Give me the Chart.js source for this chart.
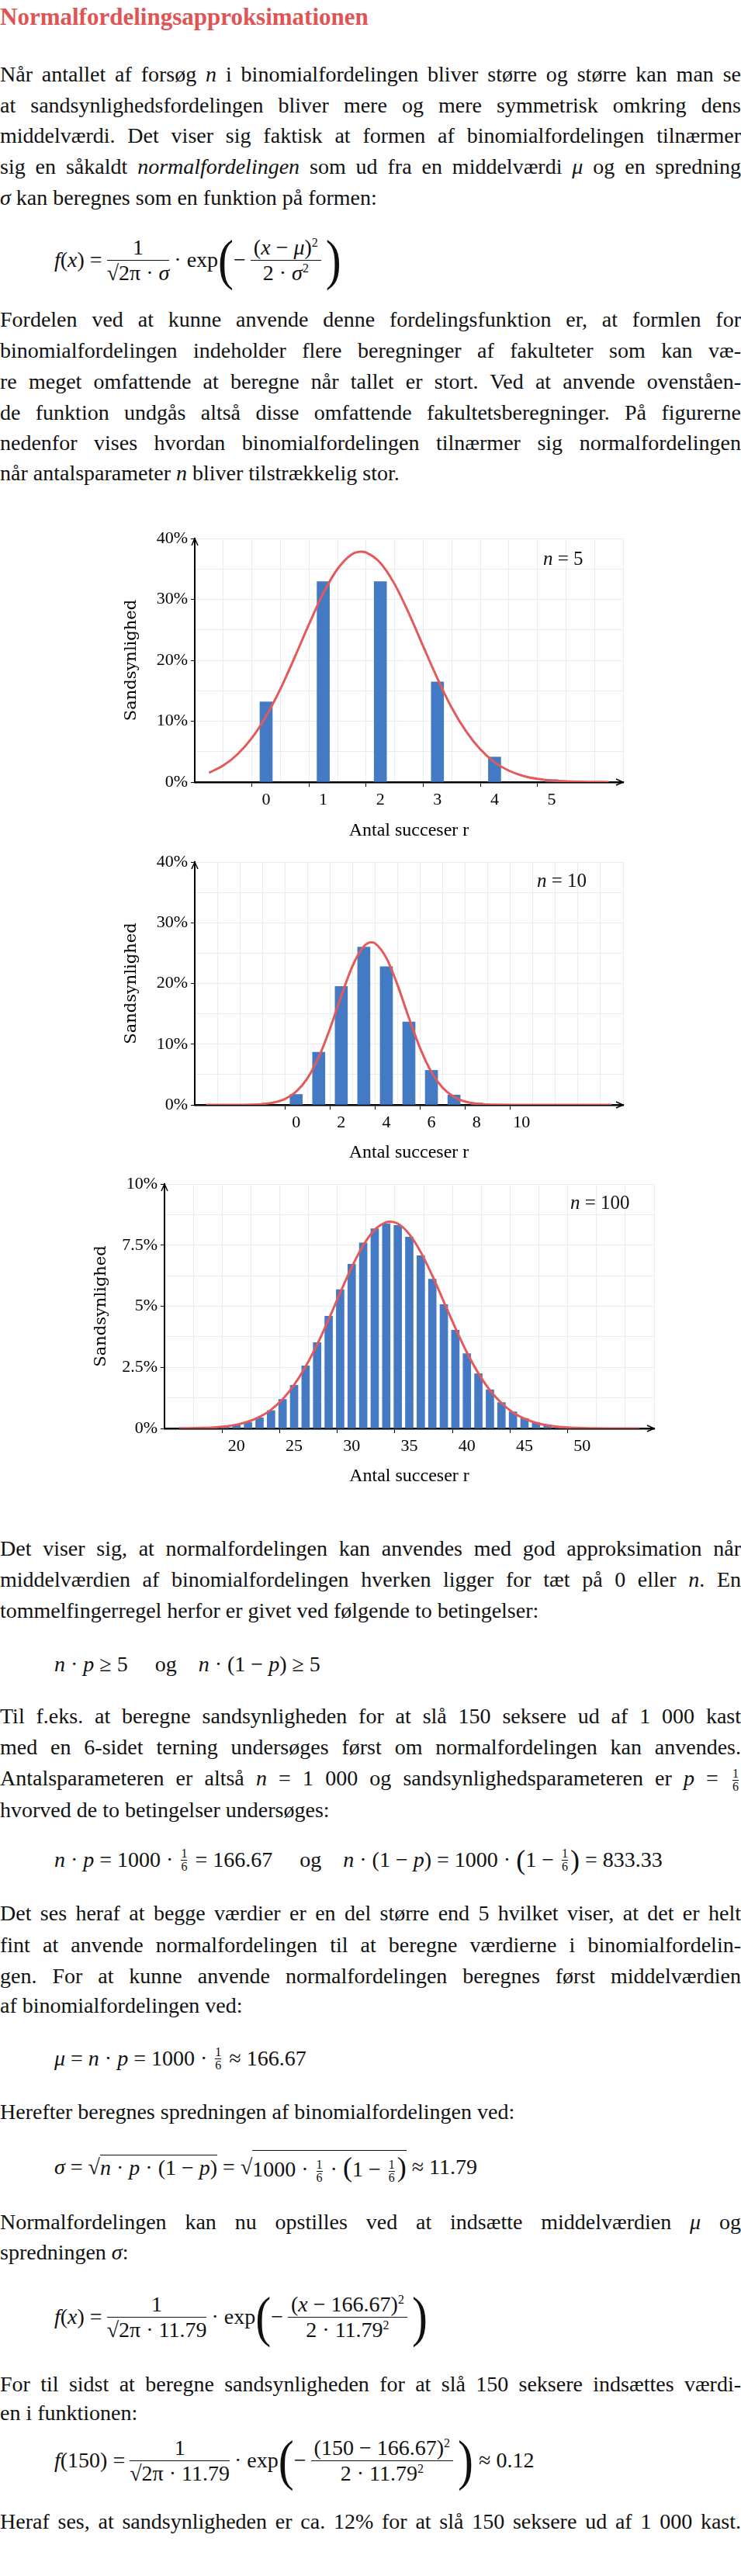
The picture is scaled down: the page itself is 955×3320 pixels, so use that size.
<!DOCTYPE html>
<html>
<head>
<meta charset="utf-8">
<script src="https://cdn.jsdelivr.net/npm/chart.js@4.4.0/dist/chart.umd.min.js"></script>
<style>
  body { margin:0; background:#fff; }
  #page { position:relative; width:955px; height:3320px; font-family:"Liberation Serif", serif; font-size:28px; color:#111; }
  .ln { position:absolute; left:0; height:40px; line-height:40px; white-space:nowrap; transform-origin:0 50%; }
  .m { font-style:italic; }
  .eq { position:absolute; left:70px; white-space:nowrap; font-size:28px; display:flex; align-items:center; }
  .frac { display:inline-flex; flex-direction:column; text-align:center; vertical-align:middle; margin:0 6px; }
  .frac > span:first-child { border-bottom:1.5px solid #111; padding:0 4px; }
  .sfrac { display:inline-flex; flex-direction:column; text-align:center; font-size:16px; line-height:16px; vertical-align:middle; margin:0 3px; }
  .sfrac > span:first-child { border-bottom:1px solid #111; }
  .big { font-size:60px; line-height:60px; display:inline-block; transform:scaleY(1.2); font-weight:200; }
  .mid { font-size:36px; display:inline-block; }
  .wrap { position:absolute; }
  .lab { position:absolute; font-size:25px; white-space:nowrap; }
  sup { font-size:16px; }
</style>
</head>
<body>
<div id="page">
  <div class="ln" style="top:2px;color:#e05454;font-size:31px;font-weight:bold;">Normalfordelingsapproksimationen</div>

  <div class="ln j" style="top:76px">Når antallet af forsøg <span class="m">n</span> i binomialfordelingen bliver større og større kan man se</div>
  <div class="ln j" style="top:116px">at sandsynlighedsfordelingen bliver mere og mere symmetrisk omkring dens</div>
  <div class="ln j" style="top:155px">middelværdi. Det viser sig faktisk at formen af binomialfordelingen tilnærmer</div>
  <div class="ln j" style="top:195px">sig en såkaldt <span class="m">normalfordelingen</span> som ud fra en middelværdi <span class="m">μ</span> og en spredning</div>
  <div class="ln" style="top:235px"><span class="m">σ</span> kan beregnes som en funktion på formen:</div>

  <div class="eq" style="top:300px;height:70px"><span class="m">f</span>(<span class="m">x</span>) =<span class="frac"><span>1</span><span>√2π · <i>σ</i></span></span>· exp<span class="big">(</span>−<span class="frac"><span>(<i>x</i> − <i>μ</i>)<sup>2</sup></span><span>2 · <i>σ</i><sup>2</sup></span></span><span class="big">)</span></div>

  <div class="ln j" style="top:392px">Fordelen ved at kunne anvende denne fordelingsfunktion er, at formlen for</div>
  <div class="ln j" style="top:432px">binomialfordelingen indeholder flere beregninger af fakulteter som kan væ-</div>
  <div class="ln j" style="top:472px">re meget omfattende at beregne når tallet er stort. Ved at anvende ovenståen-</div>
  <div class="ln j" style="top:512px">de funktion undgås altså disse omfattende fakultetsberegninger. På figurerne</div>
  <div class="ln j" style="top:551px">nedenfor vises hvordan binomialfordelingen tilnærmer sig normalfordelingen</div>
  <div class="ln" style="top:590px">når antalsparameter <span class="m">n</span> bliver tilstrækkelig stor.</div>

  <div class="wrap" style="left:140px;top:664px;width:680px;height:431px"><canvas id="c1"></canvas></div>
  <div class="lab" style="left:700px;top:706px"><i>n</i> = 5</div>
  <div class="wrap" style="left:140px;top:1081px;width:680px;height:429px"><canvas id="c2"></canvas></div>
  <div class="lab" style="left:692px;top:1121px"><i>n</i> = 10</div>
  <div class="wrap" style="left:100px;top:1496px;width:760px;height:431px"><canvas id="c3"></canvas></div>
  <div class="lab" style="left:735px;top:1536px"><i>n</i> = 100</div>

  <div class="ln j" style="top:1976px">Det viser sig, at normalfordelingen kan anvendes med god approksimation når</div>
  <div class="ln j" style="top:2016px">middelværdien af binomialfordelingen hverken ligger for tæt på 0 eller <span class="m">n</span>. En</div>
  <div class="ln" style="top:2056px">tommelfingerregel herfor er givet ved følgende to betingelser:</div>

  <div class="eq" style="top:2125px;height:40px"><i>n</i>&nbsp;·&nbsp;<i>p</i>&nbsp;≥&nbsp;5 &nbsp;&nbsp;&nbsp;&nbsp;og&nbsp;&nbsp;&nbsp;&nbsp; <i>n</i>&nbsp;·&nbsp;(1&nbsp;−&nbsp;<i>p</i>)&nbsp;≥&nbsp;5</div>

  <div class="ln j" style="top:2192px">Til f.eks. at beregne sandsynligheden for at slå 150 seksere ud af 1 000 kast</div>
  <div class="ln j" style="top:2232px">med en 6-sidet terning undersøges først om normalfordelingen kan anvendes.</div>
  <div class="ln j" style="top:2272px">Antalsparameteren er altså <i>n</i> = 1 000 og sandsynlighedsparameteren er <i>p</i> = <span class="sfrac"><span>1</span><span>6</span></span></div>
  <div class="ln" style="top:2313px">hvorved de to betingelser undersøges:</div>

  <div class="eq" style="top:2377px;height:40px"><i>n</i>&nbsp;·&nbsp;<i>p</i>&nbsp;=&nbsp;1000&nbsp;·&nbsp;<span class="sfrac"><span>1</span><span>6</span></span>&nbsp;=&nbsp;166.67 &nbsp;&nbsp;&nbsp;&nbsp;og&nbsp;&nbsp;&nbsp;&nbsp; <i>n</i>&nbsp;·&nbsp;(1&nbsp;−&nbsp;<i>p</i>)&nbsp;=&nbsp;1000&nbsp;·&nbsp;<span class="mid">(</span>1&nbsp;−&nbsp;<span class="sfrac"><span>1</span><span>6</span></span><span class="mid">)</span>&nbsp;=&nbsp;833.33</div>

  <div class="ln j" style="top:2446px">Det ses heraf at begge værdier er en del større end 5 hvilket viser, at det er helt</div>
  <div class="ln j" style="top:2487px">fint at anvende normalfordelingen til at beregne værdierne i binomialfordelin-</div>
  <div class="ln j" style="top:2527px">gen. For at kunne anvende normalfordelingen beregnes først middelværdien</div>
  <div class="ln" style="top:2565px">af binomialfordelingen ved:</div>

  <div class="eq" style="top:2633px;height:40px"><i>μ</i>&nbsp;=&nbsp;<i>n</i>&nbsp;·&nbsp;<i>p</i>&nbsp;=&nbsp;1000&nbsp;·&nbsp;<span class="sfrac"><span>1</span><span>6</span></span>&nbsp;≈&nbsp;166.67</div>

  <div class="ln" style="top:2702px">Herefter beregnes spredningen af binomialfordelingen ved:</div>

  <div class="eq" style="top:2773px;height:40px"><i>σ</i>&nbsp;=&nbsp;√<span style="border-top:1.5px solid #111"><i>n</i>&nbsp;·&nbsp;<i>p</i>&nbsp;·&nbsp;(1&nbsp;−&nbsp;<i>p</i>)</span>&nbsp;=&nbsp;√<span style="border-top:1.5px solid #111">1000&nbsp;·&nbsp;<span class="sfrac"><span>1</span><span>6</span></span>&nbsp;·&nbsp;<span class="mid">(</span>1&nbsp;−&nbsp;<span class="sfrac"><span>1</span><span>6</span></span><span class="mid">)</span></span>&nbsp;≈&nbsp;11.79</div>

  <div class="ln j" style="top:2844px">Normalfordelingen kan nu opstilles ved at indsætte middelværdien <i>μ</i> og</div>
  <div class="ln" style="top:2883px">spredningen <i>σ</i>:</div>

  <div class="eq" style="top:2951px;height:70px"><i>f</i>(<i>x</i>) =<span class="frac"><span>1</span><span>√2π · 11.79</span></span>· exp<span class="big">(</span>−<span class="frac"><span>(<i>x</i> − 166.67)<sup>2</sup></span><span>2 · 11.79<sup>2</sup></span></span><span class="big">)</span></div>

  <div class="ln j" style="top:3053px">For til sidst at beregne sandsynligheden for at slå 150 seksere indsættes værdi-</div>
  <div class="ln" style="top:3090px">en i funktionen:</div>

  <div class="eq" style="top:3136px;height:70px"><i>f</i>(150) =<span class="frac"><span>1</span><span>√2π · 11.79</span></span>· exp<span class="big">(</span>−<span class="frac"><span>(150 − 166.67)<sup>2</sup></span><span>2 · 11.79<sup>2</sup></span></span><span class="big">)</span>&nbsp;≈&nbsp;0.12</div>

  <div class="ln j" style="top:3230px">Heraf ses, at sandsynligheden er ca. 12% for at slå 150 seksere ud af 1 000 kast.</div>
</div>

<script>
// n = 5
const r5 = [0, 1, 2, 3, 4, 5];
const p5 = [13.17, 32.92, 32.92, 16.46, 4.12, 0.41];
const nx5 = [-1, -0.75, -0.5, -0.25, 0, 0.25, 0.5, 0.75, 1, 1.25, 1.5, 1.667, 1.75, 2, 2.25, 2.5, 2.75, 3, 3.25, 3.5, 3.75, 4, 4.25, 4.5, 4.75, 5, 5.5, 6];
const ny5 = [1.54, 2.73, 4.59, 7.24, 10.84, 15.3, 20.5, 25.9, 31.0, 35.0, 37.4, 37.85, 37.7, 36.0, 32.5, 27.7, 22.3, 17.0, 12.2, 8.35, 5.37, 3.27, 1.88, 1.02, 0.53, 0.25, 0.05, 0.01];

// n = 10
const r10 = [0, 1, 2, 3, 4, 5, 6, 7, 8, 9, 10];
const p10 = [1.73, 8.67, 19.51, 26.01, 22.76, 13.66, 5.69, 1.63, 0.30, 0.03, 0.0];
const nx10 = [-4, -3, -2, -1.5, -1, -0.5, 0, 0.5, 1, 1.5, 2, 2.5, 3, 3.333, 3.5, 4, 4.5, 5, 5.5, 6, 6.5, 7, 7.5, 8, 9, 10, 12, 14];
const ny10 = [0, 0.003, 0.044, 0.14, 0.39, 0.98, 2.20, 4.40, 7.86, 12.56, 17.94, 22.9, 26.1, 26.76, 26.6, 24.2, 19.7, 14.33, 9.31, 5.40, 2.80, 1.30, 0.54, 0.20, 0.02, 0.002, 0, 0];

// n = 100
const r100 = [18, 19, 20, 21, 22, 23, 24, 25, 26, 27, 28, 29, 30, 31, 32, 33, 34, 35, 36, 37, 38, 39, 40, 41, 42, 43, 44, 45, 46, 47, 48, 49];
const p100 = [0.03, 0.07, 0.14, 0.25, 0.44, 0.73, 1.19, 1.77, 2.56, 3.51, 4.59, 5.68, 6.72, 7.59, 8.17, 8.38, 8.31, 7.83, 7.07, 6.11, 5.07, 4.02, 3.06, 2.24, 1.58, 1.06, 0.68, 0.41, 0.24, 0.13, 0.07, 0.03];
const nx100 = [15, 17, 18, 19, 20, 21, 22, 23, 24, 25, 26, 27, 28, 29, 30, 31, 32, 33, 33.33, 34, 35, 36, 37, 38, 39, 40, 41, 42, 43, 44, 45, 46, 47, 48, 50, 55];
const ny100 = [0.004, 0.02, 0.043, 0.083, 0.155, 0.277, 0.47, 0.767, 1.19, 1.78, 2.53, 3.43, 4.46, 5.55, 6.59, 7.49, 8.13, 8.44, 8.46, 8.38, 7.95, 7.21, 6.25, 5.18, 4.11, 3.11, 2.25, 1.56, 1.04, 0.65, 0.40, 0.23, 0.127, 0.067, 0.016, 0];

const blue = "#4479c4";
const red = "#e45a5a";
const tickFont = { family: "Liberation Serif", size: 22 };

const arrows = {
    id: 'arrows',
    afterDraw(chart) {
        const ctx = chart.ctx, a = chart.chartArea;
        const y0 = chart.scales.y.getPixelForValue(0);
        ctx.save();
        ctx.strokeStyle = "#000";
        ctx.lineWidth = 1.5;
        ctx.beginPath();
        ctx.moveTo(a.left - 4, a.top + 9); ctx.lineTo(a.left, a.top); ctx.lineTo(a.left + 4, a.top + 9);
        ctx.moveTo(a.right - 9, y0 - 4); ctx.lineTo(a.right, y0); ctx.lineTo(a.right - 9, y0 + 4);
        ctx.stroke();
        ctx.restore();
    }
};

function isLab(list, c) {
    return !!(c && c.tick && list.includes(c.tick.value));
}

function makeChart(id, o) {
    const ctx = document.getElementById(id).getContext('2d');
    return new Chart(ctx, {
        type: 'bar',
        data: {
            datasets: [{
                type: 'line',
                data: o.nx.map((x, i) => ({ x: x, y: o.ny[i] })),
                borderColor: red,
                borderWidth: 3,
                pointRadius: 0,
                cubicInterpolationMode: 'monotone',
                fill: false
            }, {
                type: 'bar',
                data: o.r.map((x, i) => ({ x: x, y: o.p[i] })),
                backgroundColor: blue,
                barThickness: o.bar
            }]
        },
        options: {
            responsive: true,
            maintainAspectRatio: false,
            animation: false,
            layout: { padding: { top: 30, right: 17, left: 0, bottom: 0 } },
            plugins: { legend: { display: false }, tooltip: { enabled: false } },
            scales: {
                x: {
                    type: 'linear',
                    min: o.xmin, max: o.xmax,
                    afterFit: s => { s.height = o.xh; },
                    afterBuildTicks: s => { s.ticks = o.xgrid.map(v => ({ value: v })); },
                    ticks: {
                        autoSkip: false, maxRotation: 0, padding: 4, color: "#000", font: tickFont,
                        callback: v => o.xlab.includes(v) ? String(v) : ''
                    },
                    grid: {
                        color: "#ececec", tickLength: 6,
                        tickColor: c => isLab(o.xlab, c) ? "#000" : "rgba(0,0,0,0)"
                    },
                    border: { color: "#000", width: 2.5 },
                    title: { display: true, text: 'Antal succeser r', color: "#000", font: { family: "Liberation Serif", size: 24 }, padding: { top: 0, bottom: 10 } }
                },
                y: {
                    min: 0, max: o.ymax,
                    afterFit: s => { s.width = o.yw; },
                    afterBuildTicks: s => { s.ticks = o.ygrid.map(v => ({ value: v })); },
                    ticks: {
                        autoSkip: false, padding: 4, color: "#000", font: tickFont,
                        callback: v => o.ylab.includes(v) ? v + '%' : ''
                    },
                    grid: {
                        color: "#ececec", tickLength: 5,
                        tickColor: c => isLab(o.ylab, c) ? "#000" : "rgba(0,0,0,0)"
                    },
                    border: { color: "#000", width: 2 },
                    title: { display: true, text: 'Sandsynlighed', color: "#000", font: { family: "DejaVu Serif", size: 21 }, padding: { top: o.tpad, bottom: 0 } }
                }
            }
        },
        plugins: [arrows]
    });
}

// justify full-width text lines to the page width
document.querySelectorAll('.ln.j').forEach(function (el) {
    const w = el.getBoundingClientRect().width;
    const gaps = (el.textContent.match(/ /g) || []).length;
    if (w < 955 && gaps) {
        el.style.wordSpacing = ((955 - w) / gaps) + 'px';
    } else if (w > 955) {
        el.style.transform = 'scaleX(' + (955 / w) + ')';
    }
});

makeChart('c1', {
    r: r5, p: p5, nx: nx5, ny: ny5, bar: 16,
    xmin: -1, xmax: 6, xh: 87, yw: 111, tpad: 17, ymax: 40,
    xgrid: [-1, -0.5, 0, 0.5, 1, 1.5, 2, 2.5, 3, 3.5, 4, 4.5, 5, 5.5, 6],
    xlab: [0, 1, 2, 3, 4, 5],
    ygrid: [0, 5, 10, 15, 20, 25, 30, 35, 40],
    ylab: [0, 10, 20, 30, 40]
});
makeChart('c2', {
    r: r10, p: p10, nx: nx10, ny: ny10, bar: 16,
    xmin: -4, xmax: 14, xh: 86, yw: 111, tpad: 17, ymax: 40,
    xgrid: [-4, -3, -2, -1, 0, 1, 2, 3, 4, 5, 6, 7, 8, 9, 10, 11, 12, 13, 14],
    xlab: [0, 2, 4, 6, 8, 10],
    ygrid: [0, 5, 10, 15, 20, 25, 30, 35, 40],
    ylab: [0, 10, 20, 30, 40]
});
makeChart('c3', {
    r: r100, p: p100, nx: nx100, ny: ny100, bar: 10,
    xmin: 15, xmax: 55, xh: 86, yw: 112, tpad: 18, ymax: 10,
    xgrid: [15, 17.5, 20, 22.5, 25, 27.5, 30, 32.5, 35, 37.5, 40, 42.5, 45, 47.5, 50, 52.5, 55],
    xlab: [20, 25, 30, 35, 40, 45, 50],
    ygrid: [0, 1.25, 2.5, 3.75, 5, 6.25, 7.5, 8.75, 10],
    ylab: [0, 2.5, 5, 7.5, 10]
});
</script>
</body>
</html>
